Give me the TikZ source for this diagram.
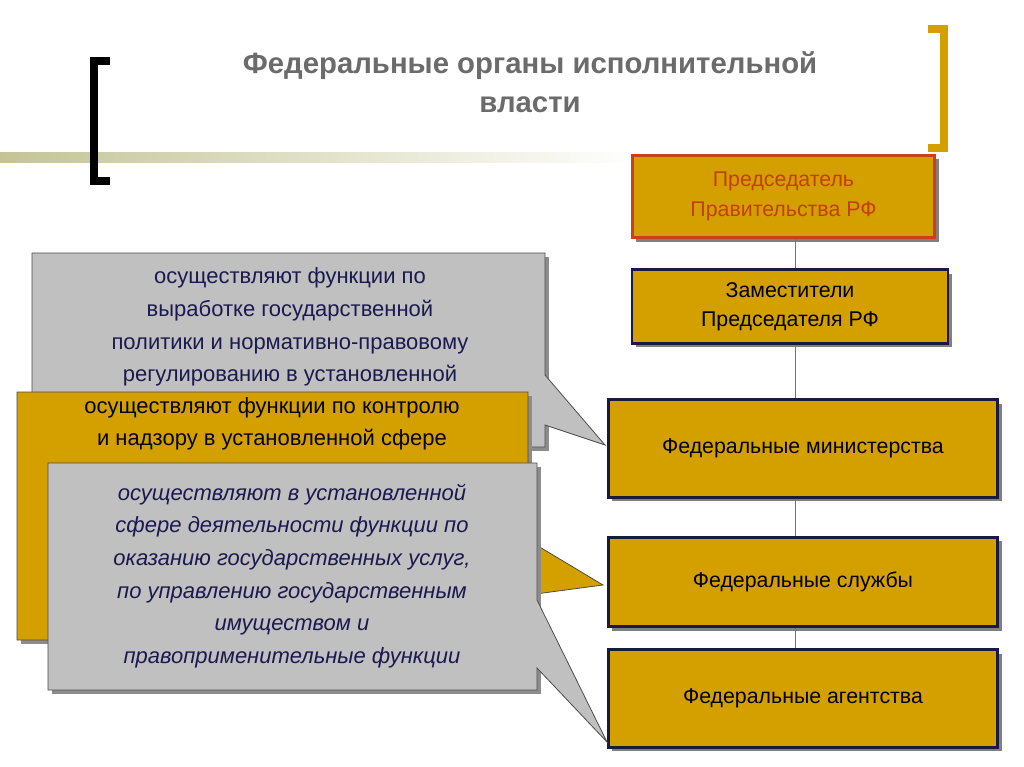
\documentclass[tikz,border=0pt]{standalone}
\usepackage{fontspec}
\setmainfont{Liberation Sans}
\begin{document}
\begin{tikzpicture}[x=0.75pt,y=-0.75pt,
  org/.style={draw=navy,line width=2.2pt,fill=gold,font=\fontsize{16}{22}\selectfont,align=center,text=black},
  shadowbox/.style={fill=black!55},
  callg/.style={fill=callgray,draw=black!70,line width=0.6pt},
  callt/.style={font=\fontsize{16.5}{24.5}\selectfont,align=center,text=navytext}]
\definecolor{gold}{HTML}{D4A000}
\definecolor{navy}{HTML}{1A1A40}
\definecolor{navytext}{HTML}{1A1A50}
\definecolor{callgray}{HTML}{C0C0C0}
\definecolor{redb}{HTML}{C8401C}
\definecolor{redt}{HTML}{C43E10}
\definecolor{olivebar}{HTML}{C4C496}
\useasboundingbox (0,0) rectangle (1024,767);
\fill[white] (0,0) rectangle (1024,767);
% title decoration
\shade[left color=olivebar,right color=white] (0,152) rectangle (640,162);
\fill[black] (90,57) rectangle (98,185);
\fill[black] (90,57) rectangle (110,65);
\fill[black] (90,177) rectangle (110,185);
\fill[gold] (940,25) rectangle (948,152);
\fill[gold] (928,25) rectangle (948,33);
\fill[gold] (928,144) rectangle (948,152);
\node[font=\bfseries\fontsize{22}{29}\selectfont,text=black!58,align=center] (title) at (530,82) {Федеральные органы исполнительной\\власти};
% org boxes
\foreach \a/\b/\c/\d in {632/155/935/238,632/270/948/343,608/400/998/497,608/537/998/627,608/650/998/747}
  \fill[black!50] (\a+4,\b+4) rectangle (\c+4,\d+4);
\node[org,draw=redb,text=redt,minimum width=227pt,minimum height=62pt] (pred) at (783.5,196.5) {Председатель\\Правительства РФ};
\node[org,minimum width=237pt,minimum height=55pt] (zam) at (790,306.5) {Заместители\\Председателя РФ};
\node[org,minimum width=292pt,minimum height=73pt] (min) at (803,448.5) {Федеральные министерства};
\node[org,minimum width=292pt,minimum height=67pt] (sl) at (803,582) {Федеральные службы};
\node[org,minimum width=292pt,minimum height=73pt] (ag) at (803,698.5) {Федеральные агентства};
\draw[black!55,line width=0.6pt] (pred.south -| 795,0) -- (zam.north -| 795,0);
\draw[black!55,line width=0.6pt] (zam.south -| 795,0) -- (min.north -| 795,0);
\draw[black!55,line width=0.6pt] (min.south -| 795,0) -- (sl.north -| 795,0);
\draw[black!55,line width=0.6pt] (sl.south -| 795,0) -- (ag.north -| 795,0);
% callout 1
\coordinate (t1) at (605,445);
\fill[black!45] (36,257) rectangle (549,451);
\draw[callg] (32,253) -- (545,253) -- (545,375) -- (t1) -- (545,425) -- (545,447) -- (32,447) -- cycle;
\node[callt] (c1) at (290,327) {осуществляют функции по\\выработке государственной\\политики и нормативно-правовому\\регулированию в установленной};
% callout 2
\coordinate (t2) at (603,585);
\fill[black!45] (21,396) rectangle (532,644);
\draw[fill=gold,draw=black!70,line width=0.6pt] (17,392) -- (528,392) -- (528,540) -- (t2) -- (528,595) -- (528,640) -- (17,640) -- cycle;
\node[callt,text=black!85!navy] (c2) at (272,440) {осуществляют функции по контролю\\и надзору в установленной сфере\\деятельности};
% callout 3
\coordinate (t3) at (607,742);
\fill[black!45] (52,467) rectangle (541,694);
\draw[callg] (48,463) -- (537,463) -- (537,600) -- (t3) -- (537,668) -- (537,690) -- (48,690) -- cycle;
\node[callt,font=\itshape\fontsize{16.5}{24.5}\selectfont] (c3) at (292,576) {осуществляют в установленной\\сфере деятельности функции по\\оказанию государственных услуг,\\по управлению государственным\\имуществом и\\правоприменительные функции};
\end{tikzpicture}
\end{document}
